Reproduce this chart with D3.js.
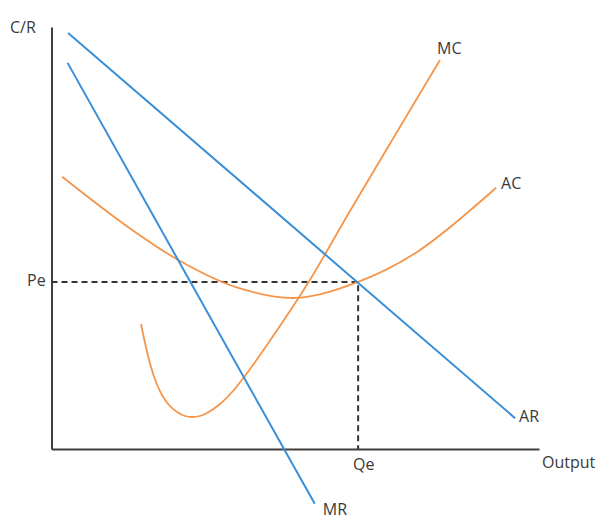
<!DOCTYPE html>
<html>
<head>
<meta charset="utf-8">
<script src="https://cdn.jsdelivr.net/npm/d3@7"></script>
<style>
  html, body { margin: 0; padding: 0; background: #fff; }
  svg { display: block; }
  text { font-family: "Open Sans", sans-serif; font-size: 16px; fill: #3a3a3a; }
</style>
</head>
<body>
<svg id="chart" width="609" height="529"></svg>
<script>
// ---- data (abstract units: output 0..100, cost/revenue 0..100) ----
const arX = [3.4, 95.1];
const arY = [98.6, 7.3];
const mrX = [3.3, 54.0];
const mrY = [91.5, -13.0];
const mcX = [18.36, 19.38, 20.41, 21.44, 22.67, 24.10, 25.74, 27.38, 28.82, 30.46, 31.90, 34.56, 37.23, 39.28, 42.77, 52.62, 61.23, 79.69];
const mcY = [29.62, 24.17, 19.43, 15.88, 12.80, 10.43, 8.77, 7.82, 7.58, 7.82, 8.53, 10.66, 13.74, 16.71, 22.27, 39.34, 56.40, 92.18];
const acX = [2.2, 14.5, 26.0, 38.0, 50.2, 62.9, 75.0, 91.2];
const acY = [64.5, 53.6, 44.8, 38.3, 35.8, 39.6, 46.7, 61.9];
const pe = 39.6;
const qe = 62.9;
const axisLabels = { y: "C/R", x: "Output" };
const curveLabels = { mc: "MC", ac: "AC", ar: "AR", mr: "MR", pe: "Pe", qe: "Qe" };

const blue = "#3a8ed6";
const orange = "#f4954c";

const svg = d3.select("#chart");
const x = d3.scaleLinear().domain([0, 100]).range([51.5, 539]);
const y = d3.scaleLinear().domain([0, 100]).range([449, 27]);

const zip = (xs, ys) => xs.map((v, i) => [v, ys[i]]);
const line = d3.line().x(d => x(d[0])).y(d => y(d[1]));
const smooth = d3.line().x(d => x(d[0])).y(d => y(d[1])).curve(d3.curveCatmullRom.alpha(0.5));

// axes
const yAxis = d3.axisLeft(y).tickValues([]).tickSizeOuter(0);
const xAxis = d3.axisBottom(x).tickValues([]).tickSizeOuter(0);
svg.append("g").attr("transform", `translate(${x(0)},0)`).call(yAxis)
  .select(".domain").attr("stroke", "#3f3f3f").attr("stroke-width", 2);
svg.append("g").attr("transform", `translate(0,${y(0)})`).call(xAxis)
  .select(".domain").attr("stroke", "#3f3f3f").attr("stroke-width", 2);

// dashed guides
svg.append("path")
  .attr("d", line([[0, pe], [qe, pe], [qe, 0]]))
  .attr("fill", "none").attr("stroke", "#333").attr("stroke-width", 2)
  .attr("stroke-dasharray", "6,4");

// AC and MC
svg.append("path").attr("d", smooth(zip(acX, acY)))
  .attr("fill", "none").attr("stroke", orange).attr("stroke-width", 1.8);
svg.append("path").attr("d", smooth(zip(mcX, mcY)))
  .attr("fill", "none").attr("stroke", orange).attr("stroke-width", 1.8);

// AR and MR
svg.append("path").attr("d", line(zip(arX, arY)))
  .attr("fill", "none").attr("stroke", blue).attr("stroke-width", 2);
svg.append("path").attr("d", line(zip(mrX, mrY)))
  .attr("fill", "none").attr("stroke", blue).attr("stroke-width", 2);

// labels
const lbl = (t, px, py) => svg.append("text").attr("x", px).attr("y", py).text(t);
lbl(axisLabels.y, 10, 33);
lbl(axisLabels.x, 542, 468);
lbl(curveLabels.pe, 27, 286);
lbl(curveLabels.qe, 353, 470);
lbl(curveLabels.mc, x(mcX[mcX.length - 1]) - 3, y(mcY[mcY.length - 1]) - 6);
lbl(curveLabels.ac, x(acX[acX.length - 1]) + 5, y(acY[acY.length - 1]) + 1);
lbl(curveLabels.ar, x(arX[1]) + 4, y(arY[1]) + 4);
lbl(curveLabels.mr, x(mrX[1]) + 8, y(mrY[1]) + 11);
</script>
</body>
</html>
